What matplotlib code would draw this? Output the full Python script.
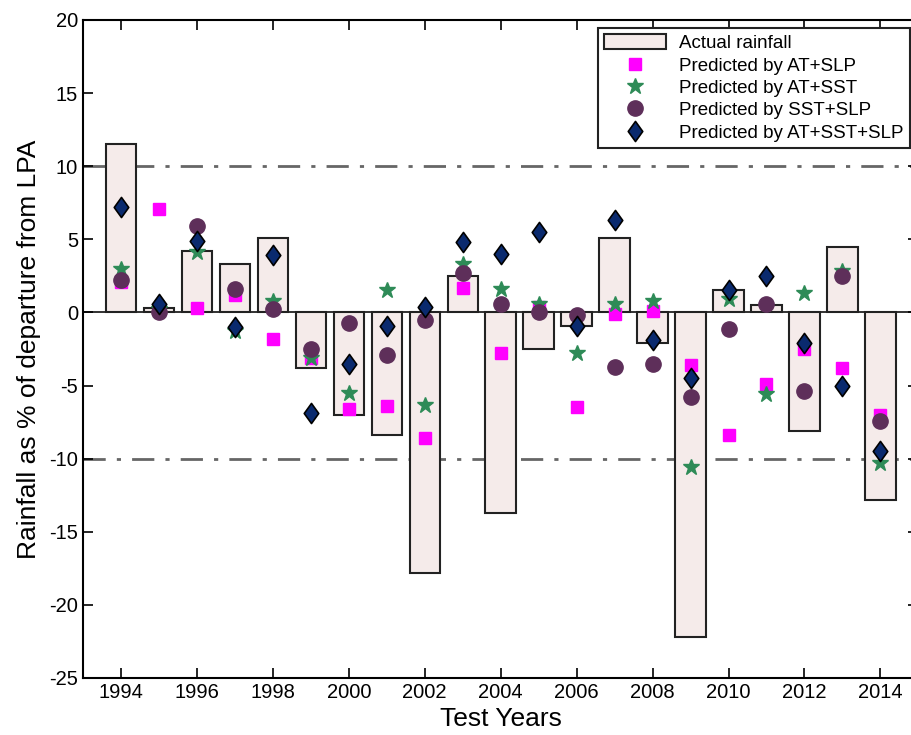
import matplotlib.pyplot as plt
import numpy as np
from matplotlib.path import Path

years = np.arange(1994, 2015)
actual = [11.5, 0.3, 4.2, 3.3, 5.1, -3.8, -7.0, -8.4, -17.8, 2.5, -13.7,
          -2.5, -0.9, 5.1, -2.1, -22.2, 1.5, 0.5, -8.1, 4.5, -12.8]
at_slp = [2.1, 7.1, 0.3, 1.2, -1.8, -3.1, -6.6, -6.4, -8.6, 1.7, -2.8,
          0.4, -6.5, -0.1, 0.1, -3.6, -8.4, -4.9, -2.5, -3.8, -7.0]
at_sst = [3.0, 0.2, 4.1, -1.3, 0.8, -3.1, -5.5, 1.5, -6.3, 3.3, 1.6,
          0.6, -2.8, 0.6, 0.8, -10.6, 0.9, -5.6, 1.3, 2.8, -10.3]
sst_slp = [2.2, 0.0, 5.9, 1.6, 0.2, -2.5, -0.7, -2.9, -0.5, 2.7, 0.6,
           0.0, -0.2, -3.7, -3.5, -5.8, -1.1, 0.6, -5.4, 2.5, -7.4]
at_sst_slp = [7.2, 0.6, 4.9, -1.0, 3.9, -6.9, -3.5, -0.9, 0.4, 4.8, 4.0,
              5.5, -0.9, 6.3, -1.9, -4.5, 1.5, 2.5, -2.1, -5.0, -9.5]

plt.rcParams['font.family'] = ['Liberation Sans', 'DejaVu Sans']
plt.rcParams['axes.unicode_minus'] = False

# matlab-like diamond, a bit wider than matplotlib's 'd'
diamond = Path([(0, 1), (0.72, 0), (0, -1), (-0.72, 0), (0, 1)],
               [Path.MOVETO, Path.LINETO, Path.LINETO, Path.LINETO,
                Path.CLOSEPOLY])

fig = plt.figure(figsize=(9.12, 7.35), dpi=100)
ax = fig.add_axes([0.091, 0.0776, 0.916, 0.8952])

bars = ax.bar(years, actual, width=0.8, color='#F5EBEA', edgecolor='#222222',
              linewidth=1.5, label='Actual rainfall', zorder=2)
ax.axhline(0, color='#222222', lw=1.3, zorder=1)
ax.axhline(10, color='#666666', lw=2, ls=(0, (8, 4, 1.5, 4)), zorder=1)
ax.axhline(-10, color='#666666', lw=2, ls=(0, (8, 4, 1.5, 4)), zorder=1)

h1, = ax.plot(years, at_slp, 's', color='#FF00FF', ms=9, mec='#FF00FF',
              label='Predicted by AT+SLP', zorder=3)
h2, = ax.plot(years, at_sst, '*', color='#2E8B57', ms=12, mec='#2E8B57',
              label='Predicted by AT+SST', zorder=4)
h3, = ax.plot(years, sst_slp, 'o', color='#5E2F5A', ms=11, mec='#5E2F5A',
              label='Predicted by SST+SLP', zorder=5)
h4, = ax.plot(years, at_sst_slp, marker=diamond, ls='none', color='#0A2A6E',
              ms=14.5, mec='black', mew=1.2, label='Predicted by AT+SST+SLP',
              zorder=6)

ax.set_xlim(1993, 2015)
ax.set_ylim(-25, 20)
ax.set_xticks(np.arange(1994, 2015, 2))
ax.set_yticks(np.arange(-25, 21, 5))
ax.tick_params(direction='in', length=7, width=1.2, labelsize=14.5,
               top=True, right=True)
for s in ax.spines.values():
    s.set_linewidth(1.5)

ax.set_xlabel('Test Years', fontsize=19)
ax.set_ylabel('Rainfall as % of departure from LPA', fontsize=19, labelpad=6)

leg = ax.legend(handles=[bars, h1, h2, h3, h4], loc='upper right',
                bbox_to_anchor=(0.998, 0.962), bbox_transform=fig.transFigure,
                fontsize=13.5, fancybox=False, framealpha=1,
                edgecolor='#222222', handlelength=3.3, handleheight=0.8,
                labelspacing=0.25, borderpad=0.35, handletextpad=0.7,
                borderaxespad=0)
leg.get_frame().set_linewidth(1.5)

fig.savefig('out.png', dpi=100)
